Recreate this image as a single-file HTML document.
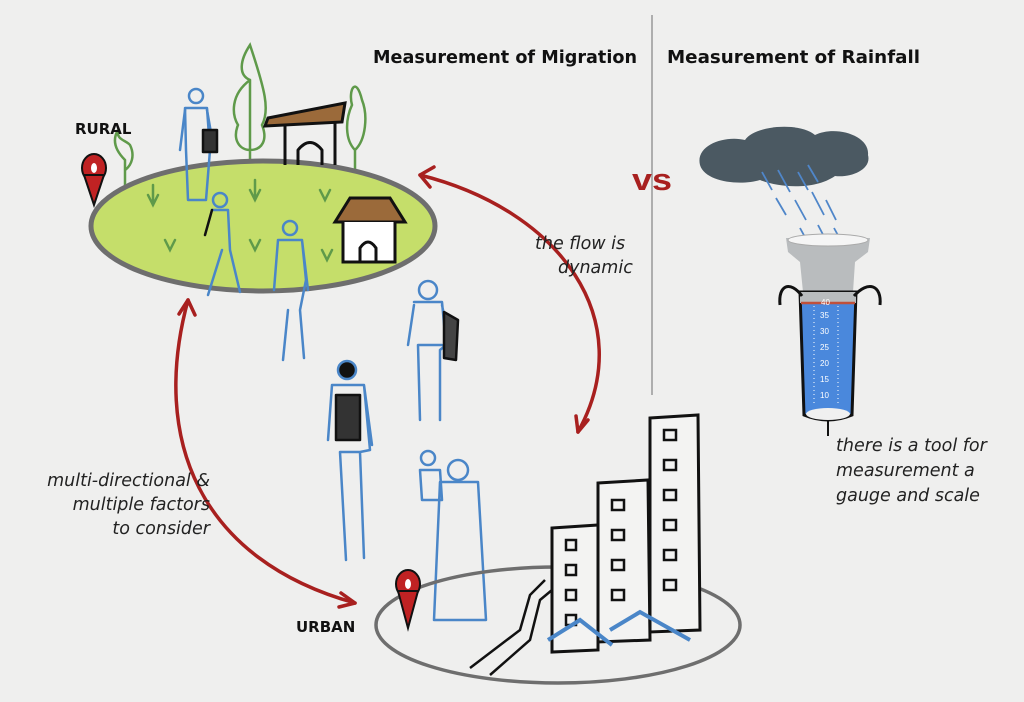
<!DOCTYPE html>
<html><head><meta charset="utf-8"><style>
html,body{margin:0;padding:0;width:1024px;height:702px;overflow:hidden;background:#efefee}
svg{display:block}
text{font-family:"Liberation Sans",sans-serif}
.t{font-family:"DejaVu Sans","Liberation Sans",sans-serif;font-weight:bold;font-size:17.5px;fill:#111}
.i{font-family:"DejaVu Sans","Liberation Sans",sans-serif;font-style:italic;font-size:17.5px;fill:#222}
.p{fill:none;stroke:#4a86c8;stroke-width:2.5;stroke-linejoin:round;stroke-linecap:round}
.k{fill:none;stroke:#111;stroke-width:3;stroke-linejoin:round}
.g{fill:none;stroke:#5f9a4a;stroke-width:2.5;stroke-linecap:round}
</style></head><body>
<svg width="1024" height="702" viewBox="0 0 1024 702">
<rect width="1024" height="702" fill="#efefee"/>
<line x1="652" y1="15" x2="652" y2="395" stroke="#999" stroke-width="1.5"/>
<text class="t" x="373" y="63" textLength="264" lengthAdjust="spacingAndGlyphs">Measurement of Migration</text>
<text class="t" x="667" y="63" textLength="253" lengthAdjust="spacingAndGlyphs">Measurement of Rainfall</text>
<text x="632" y="190" font-size="31" font-weight="bold" fill="#a8201f" font-family="DejaVu Sans,sans-serif" textLength="40" lengthAdjust="spacingAndGlyphs">vs</text>

<!-- cloud -->
<path d="M700,165 C695,145 725,135 745,140 C755,125 800,122 815,135 C835,125 870,135 868,155 C872,170 850,178 835,176 C815,190 780,188 760,180 C740,186 705,182 700,165Z" fill="#4b5962"/>
<g stroke="#4f86c9" stroke-width="1.8">
<line x1="762" y1="172" x2="772" y2="190"/><line x1="778" y1="170" x2="790" y2="192"/><line x1="798" y1="172" x2="808" y2="190"/><line x1="808" y1="165" x2="818" y2="182"/>
<line x1="776" y1="198" x2="786" y2="215"/><line x1="795" y1="200" x2="806" y2="220"/><line x1="812" y1="192" x2="824" y2="215"/><line x1="826" y1="200" x2="836" y2="220"/>
<line x1="800" y1="228" x2="812" y2="250"/><line x1="818" y1="225" x2="830" y2="248"/><line x1="834" y1="228" x2="845" y2="248"/>
<line x1="808" y1="258" x2="818" y2="278"/><line x1="826" y1="258" x2="836" y2="278"/><line x1="840" y1="250" x2="850" y2="270"/>
</g>
<!-- gauge -->
<path d="M786,238 L870,238 L868,252 L855,262 L853,292 L803,292 L800,262 L788,252Z" fill="#b9bcbe"/>
<ellipse cx="828" cy="240" rx="40" ry="6" fill="#f5f5f5" stroke="#aaa"/>
<path d="M800,292 L856,292 L852,415 Q828,425 804,415Z" fill="#4a88dc" stroke="#111" stroke-width="3"/>
<path d="M800,292 L856,292 L856,303 L800,303Z" fill="#b9bcbe"/>
<line x1="801" y1="303" x2="855" y2="303" stroke="#c0503a" stroke-width="2.5"/>
<ellipse cx="828" cy="414" rx="22" ry="6" fill="#f0f0f0"/>
<path d="M802,296 C790,280 778,285 780,305" class="k" stroke-width="2.5"/>
<path d="M854,296 C868,280 882,285 880,305" class="k" stroke-width="2.5"/>
<line x1="828" y1="421" x2="828" y2="436" stroke="#111" stroke-width="2"/>
<g fill="#fff" font-size="8" font-family="Liberation Sans">
<text x="821" y="305">40</text><text x="820" y="318">35</text><text x="820" y="334">30</text><text x="820" y="350">25</text><text x="820" y="366">20</text><text x="820" y="382">15</text><text x="820" y="398">10</text>
</g>
<g stroke="#fff" stroke-width="1" stroke-dasharray="1 3">
<line x1="814" y1="306" x2="814" y2="405"/><line x1="838" y1="306" x2="838" y2="405"/>
</g>
<text class="i" x="836" y="451">there is a tool for</text>
<text class="i" x="836" y="476">measurement a</text>
<text class="i" x="836" y="501">gauge and scale</text>

<!-- rural -->
<path class="g" d="M250,170 L250,80 M250,80 C230,95 232,115 238,125 C232,140 240,150 250,150 C262,150 268,140 262,125 C270,110 265,90 250,45 C240,60 238,75 250,80"/>
<path class="g" d="M355,230 L355,150 M355,150 C345,140 345,120 352,105 C348,90 356,75 362,100 C368,115 366,140 355,150"/>
<path class="g" d="M125,245 L125,160 M125,160 C115,150 112,140 118,130 C116,140 126,140 130,145 C135,155 132,165 125,170"/>
<ellipse cx="263" cy="226" rx="172" ry="65" fill="#c5de6a" stroke="#6e6e6e" stroke-width="5"/>
<g class="g" stroke-width="2">
<path d="M148,195 l5,10 l5,-10 M153,185 v20"/><path d="M165,240 l5,10 l5,-10"/><path d="M250,190 l5,10 l5,-10 M255,180 v20"/>
<path d="M250,240 l5,10 l5,-10"/><path d="M320,190 l5,10 l5,-10"/><path d="M322,250 l5,10 l5,-10"/>
</g>
<path d="M268,118 L345,103 L342,122 L265,126Z" fill="#9b6a3a" stroke="#111" stroke-width="3"/>
<path class="k" d="M285,126 V165 M335,122 V165 M298,165 V150 Q310,135 322,150 V165"/>
<path d="M335,222 L350,198 L390,198 L405,222Z" fill="#9b6a3a" stroke="#111" stroke-width="3"/>
<path d="M343,222 V262 H395 V222" fill="#fff" stroke="#111" stroke-width="3"/>
<path class="k" d="M360,262 V248 Q368,236 376,248 V262"/>
<ellipse cx="94" cy="168" rx="12" ry="14" fill="#c02223" stroke="#111" stroke-width="2"/>
<path d="M84,175 L94,205 L104,175Z" fill="#c02223" stroke="#111" stroke-width="2"/>
<ellipse cx="94" cy="168" rx="3" ry="5" fill="#fff"/>
<text class="t" x="75" y="134" style="font-size:15px">RURAL</text>

<!-- people -->
<g class="p">
<circle cx="196" cy="96" r="7"/><path d="M185,108 L207,108 L210,150 L206,200 L188,200 L186,150Z"/><path d="M185,110 L180,150 M207,110 L214,150"/>
<rect x="203" y="130" width="14" height="22" fill="#333" stroke="#111"/>
<circle cx="220" cy="200" r="7"/><path d="M212,210 L228,210 L230,250 L240,292 M222,250 L208,295"/><path d="M212,210 L205,235" stroke="#111"/>
<circle cx="290" cy="228" r="7"/><path d="M278,240 L302,240 L306,280 L300,310 L304,358 M288,310 L283,360 M278,240 L274,290 M302,240 L308,290"/>
<circle cx="428" cy="290" r="9"/><path d="M414,302 L442,302 L446,345 L440,350 L440,420 M418,345 L420,420 M414,305 L408,345 M442,305 L450,345 M418,345 H442"/>
<path d="M444,312 L458,320 L456,360 L444,358Z" fill="#444" stroke="#111"/>
<circle cx="347" cy="370" r="9" fill="#111"/><path d="M332,385 L364,385 L370,450 L360,452 L364,558 M340,452 L346,560 M332,385 L328,440 M364,385 L372,445 M340,452 H360"/>
<path d="M336,395 L360,395 L360,440 L336,440Z" fill="#333" stroke="#111"/>
<circle cx="458" cy="470" r="10"/><path d="M440,482 L478,482 L486,620 L434,620Z"/><circle cx="428" cy="458" r="7"/><path d="M420,470 L440,470 L442,500 L422,500Z"/>
</g>

<!-- arrows -->
<g fill="none" stroke="#a8201f" stroke-width="3.5" stroke-linecap="round">
<path d="M420,175 C560,210 640,320 578,432"/><path d="M420,175 l14,-8 M420,175 l10,12"/><path d="M578,432 l-2,-16 M578,432 l10,-12"/>
<path d="M188,300 C150,440 200,560 355,603"/><path d="M188,300 l-9,14 M188,300 l7,15"/><path d="M355,603 l-14,-10 M355,603 l-16,4"/>
</g>
<text class="i" x="535" y="249">the flow is</text>
<text class="i" x="558" y="273">dynamic</text>
<text class="i" x="210" y="486" text-anchor="end">multi-directional &amp;</text>
<text class="i" x="210" y="510" text-anchor="end">multiple factors</text>
<text class="i" x="210" y="534" text-anchor="end">to consider</text>

<!-- urban -->
<ellipse cx="558" cy="625" rx="182" ry="58" fill="none" stroke="#6e6e6e" stroke-width="3.5"/>
<g fill="#f3f3f2" stroke="#111" stroke-width="3">
<path d="M650,418 L698,415 L700,630 L650,632Z"/>
<path d="M598,483 L648,480 L650,640 L598,642Z"/>
<path d="M552,528 L598,525 L598,650 L552,652Z"/>
</g>
<g fill="none" stroke="#111" stroke-width="2.5">
<rect x="664" y="430" width="12" height="10"/><rect x="664" y="460" width="12" height="10"/><rect x="664" y="490" width="12" height="10"/><rect x="664" y="520" width="12" height="10"/><rect x="664" y="550" width="12" height="10"/><rect x="664" y="580" width="12" height="10"/>
<rect x="612" y="500" width="12" height="10"/><rect x="612" y="530" width="12" height="10"/><rect x="612" y="560" width="12" height="10"/><rect x="612" y="590" width="12" height="10"/>
<rect x="566" y="540" width="10" height="10"/><rect x="566" y="565" width="10" height="10"/><rect x="566" y="590" width="10" height="10"/><rect x="566" y="615" width="10" height="10"/>
<path d="M470,668 L520,630 L530,595 L545,580 M490,675 L530,640 L540,600 L552,590"/>
</g>
<path d="M548,640 L580,620 L612,645 M610,630 L640,612 L690,640" fill="none" stroke="#4a86c8" stroke-width="4"/>
<ellipse cx="408" cy="584" rx="12" ry="14" fill="#c02223" stroke="#111" stroke-width="2"/>
<path d="M398,591 L408,628 L418,591Z" fill="#c02223" stroke="#111" stroke-width="2"/>
<ellipse cx="408" cy="584" rx="3" ry="5" fill="#fff"/>
<text class="t" x="296" y="632" style="font-size:15px">URBAN</text>
</svg>
</body></html>
